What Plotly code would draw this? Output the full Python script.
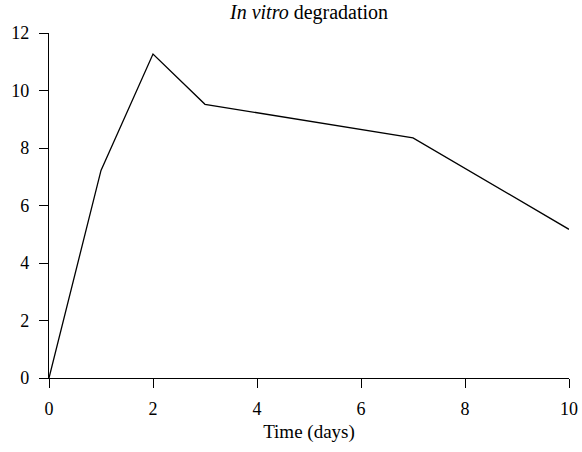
import plotly.graph_objects as go

time_days = [0, 1, 2, 3, 7, 10]
degradation = [0, 7.22, 11.27, 9.52, 8.35, 5.17]

x_ticks = [0, 2, 4, 6, 8, 10]
y_ticks = [0, 2, 4, 6, 8, 10, 12]

FONT = "Liberation Serif, Times New Roman, serif"
tick_fnt = dict(family=FONT, size=18, color="black")
title_fnt = dict(family=FONT, size=20, color="black")
axis_title_fnt = dict(family=FONT, size=19, color="black")

fig = go.Figure()
fig.add_trace(go.Scatter(x=time_days, y=degradation, mode="lines",
                         line=dict(color="black", width=1.3), showlegend=False))

fig.update_layout(
    width=582, height=452,
    margin=dict(l=49, r=13, t=33, b=74, autoexpand=False),
    paper_bgcolor="white", plot_bgcolor="white",
    font=tick_fnt,
    title=dict(text="<i>In vitro</i> degradation", x=0.531, xanchor="center",
               y=0.973, yanchor="middle", yref="container", automargin=False,
               font=title_fnt),
)
fig.update_xaxes(range=[0, 10], tickvals=x_ticks, showgrid=False, zeroline=False,
                 showline=True, linecolor="black", linewidth=1.2,
                 ticks="outside", ticklen=9, tickwidth=1.2, tickcolor="black",
                 tickfont=tick_fnt, automargin=False,
                 title=dict(text="Time (days)", standoff=6, font=axis_title_fnt),
                 ticklabelstandoff=5)
fig.update_yaxes(range=[0, 12], tickvals=y_ticks, showgrid=False, zeroline=False,
                 showline=True, linecolor="black", linewidth=1.2,
                 ticks="outside", ticklen=9, tickwidth=1.2, tickcolor="black",
                 tickfont=tick_fnt, automargin=False,
                 ticklabelstandoff=6)

fig.write_html("out.html", config={"displayModeBar": False},
               post_script="document.body.style.margin='0';")
